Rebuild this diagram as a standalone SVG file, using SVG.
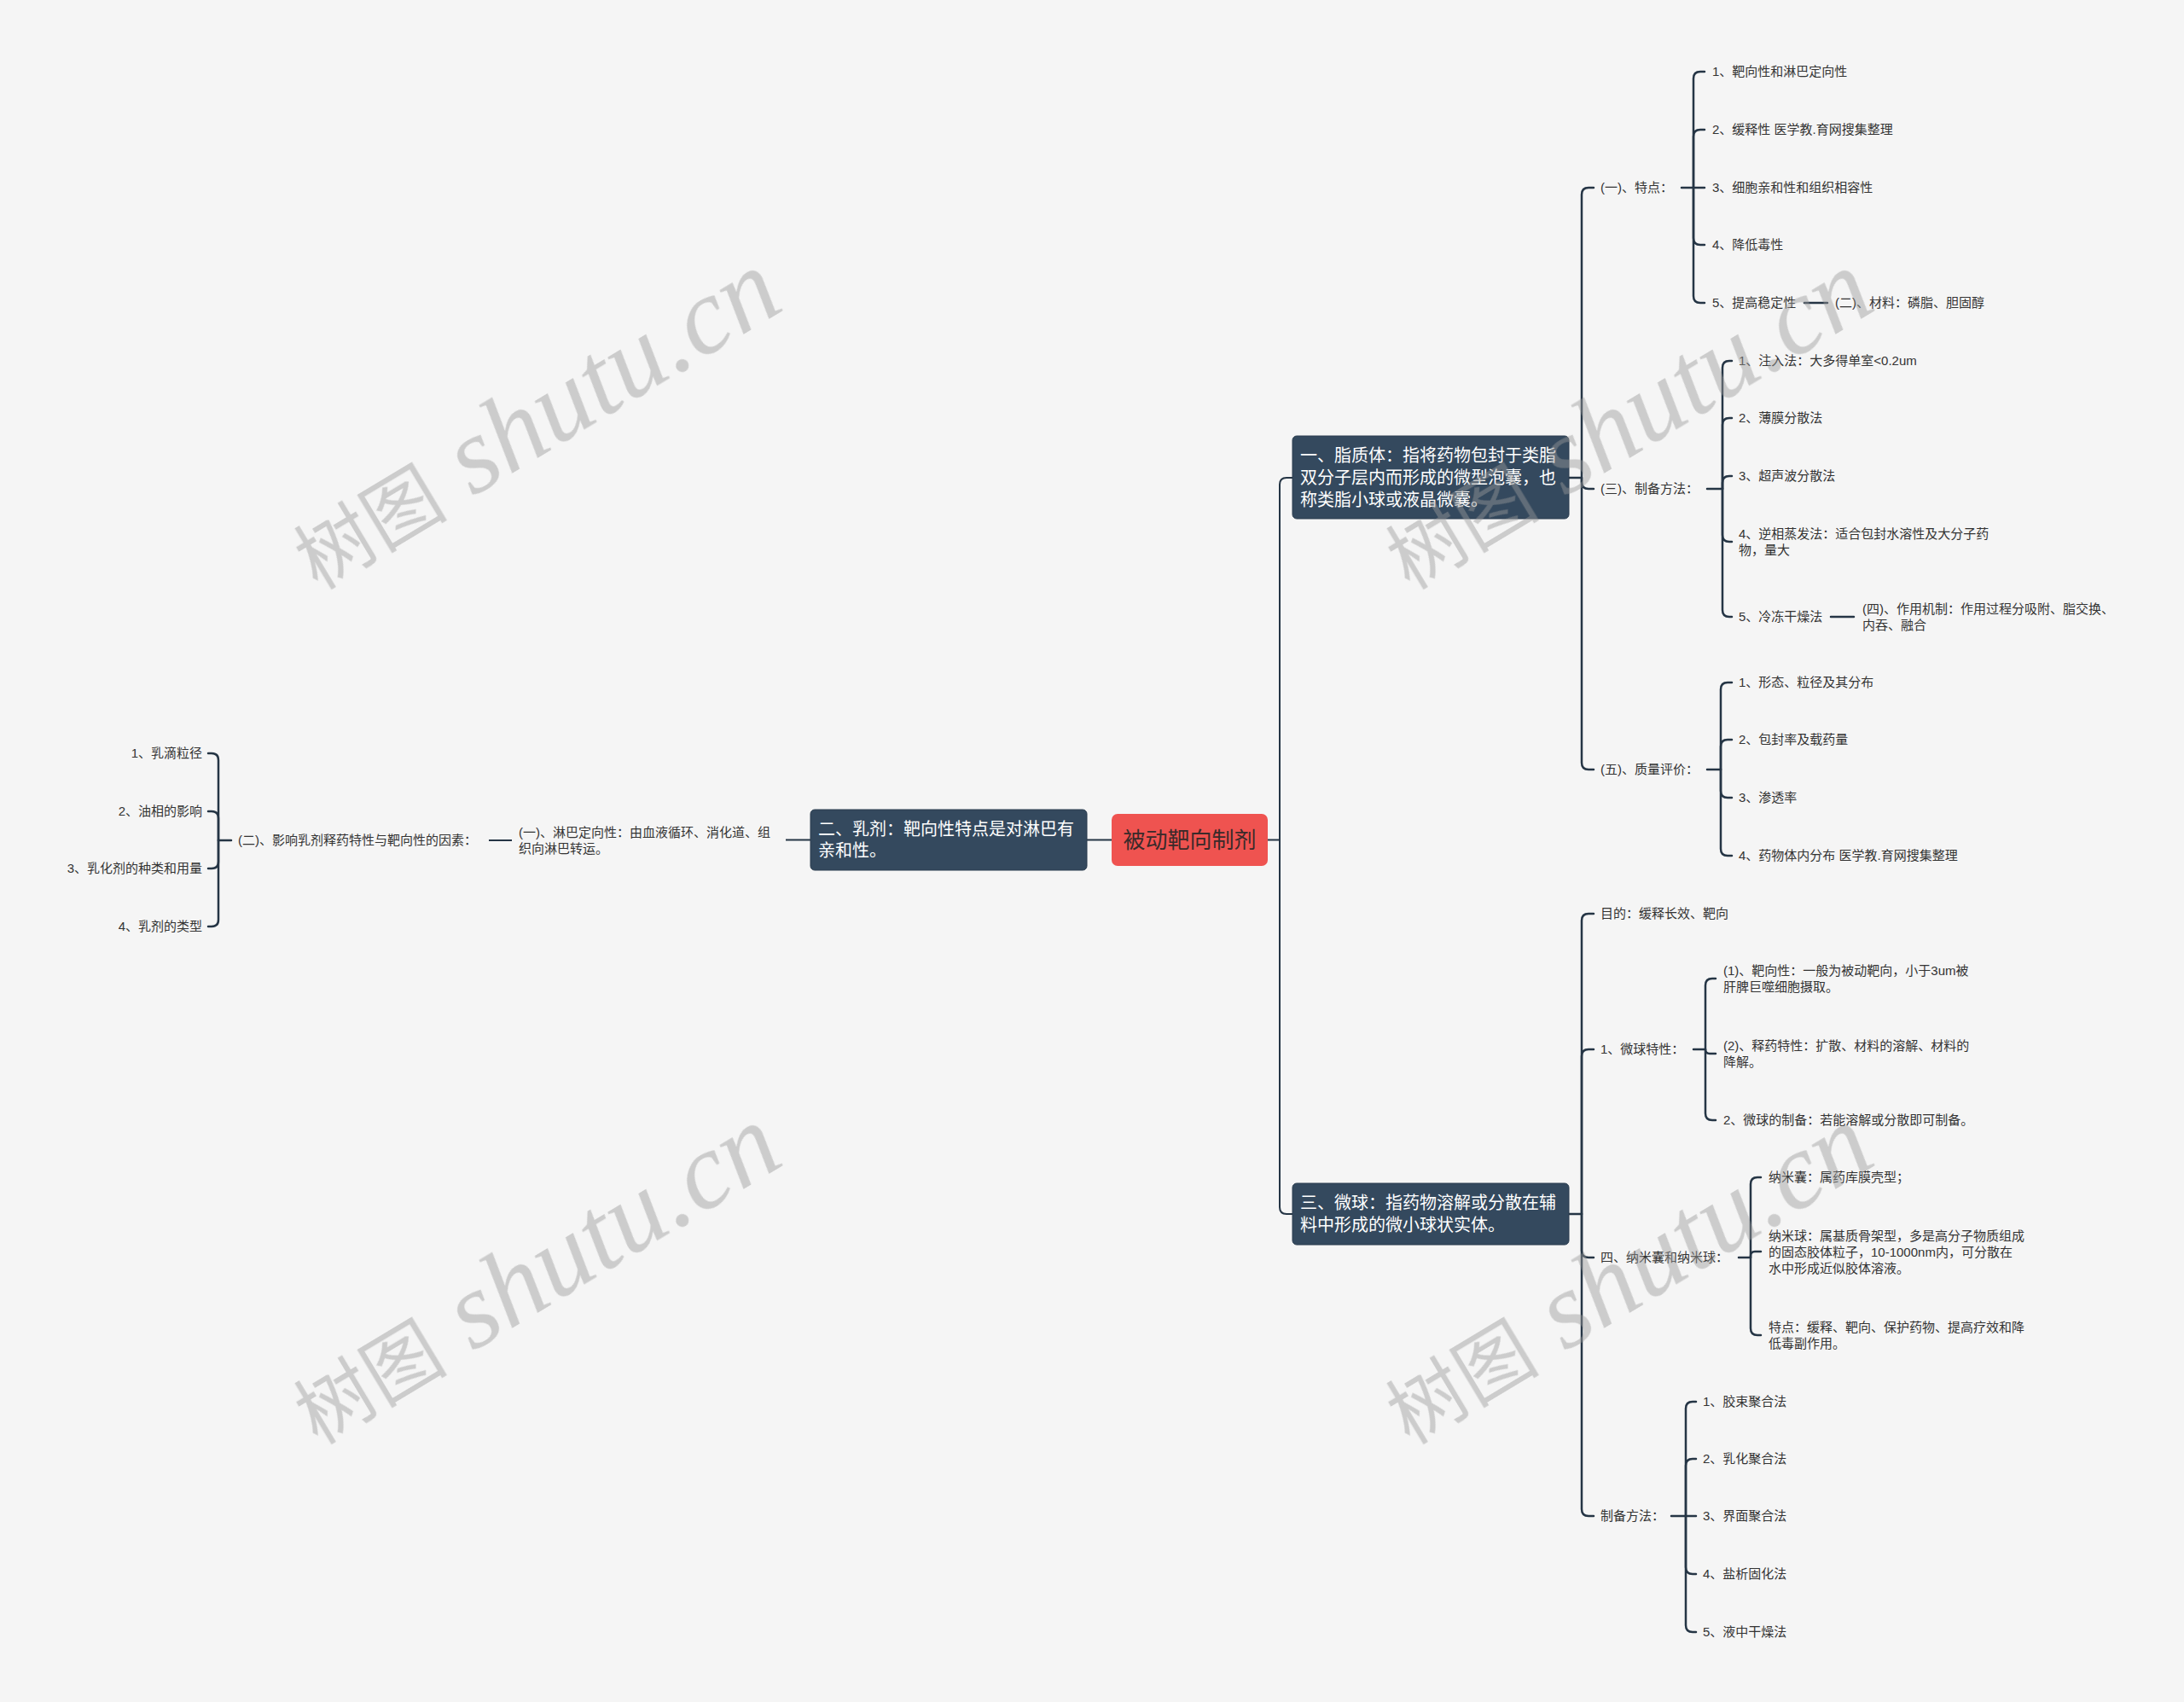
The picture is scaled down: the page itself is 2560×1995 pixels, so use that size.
<svg xmlns="http://www.w3.org/2000/svg" width="2560" height="1995" viewBox="0 0 2560 1995">
<style>
.bg{fill:#f5f5f5}
.t{font-family:"Liberation Sans","Noto Sans CJK SC",sans-serif;font-size:15px;fill:#333333}
.te{text-anchor:end}
.n{font-family:"Liberation Sans","Noto Sans CJK SC",sans-serif;font-size:20px;fill:#ffffff}
.nb{fill:#34495e;stroke:#2b3d4f;stroke-width:1}
.rb{fill:#ef5350}
.rt{font-family:"Liberation Sans","Noto Sans CJK SC",sans-serif;font-size:26px;fill:#3a2a2a;text-anchor:middle}
.c{fill:none;stroke:#253545;stroke-width:2.5;stroke-linecap:round;stroke-linejoin:round}
.m{fill:none;stroke:#253545;stroke-width:2}
.wm{fill:#9a9a9a;opacity:0.45}
.wc{font-family:"Noto Sans CJK SC",serif;font-size:90px}
.wl{font-family:"Liberation Serif",serif;font-style:italic;font-size:128px}
</style>
<rect class="bg" x="0" y="0" width="2560" height="1995"/>

<g id="connectors">
<path class="m" d="M1303,984.5 H1274"/>
<path class="m" d="M1486,984.5 H1500 V568 Q1500,560 1508,560 H1515"/>
<path class="m" d="M1500,984.5 V1415 Q1500,1423 1508,1423 H1515"/>
<path class="m" d="M950,984.5 H921"/>
<path class="m" d="M600,985 H573"/>
<path class="c" d="M271,985 H256 V891 Q256,883 248,883 H244"/>
<path class="c" d="M256,985 V959 Q256,951 248,951 H244"/>
<path class="c" d="M256,985 V1010 Q256,1018 248,1018 H244"/>
<path class="c" d="M256,985 V1078 Q256,1086 248,1086 H244"/>

<path class="c" d="M1839,560 H1854 V228 Q1854,220 1862,220 H1868"/>
<path class="c" d="M1854,560 V565 Q1854,573 1862,573 H1868"/>
<path class="c" d="M1854,560 V894 Q1854,902 1862,902 H1868"/>

<path class="c" d="M1971,220 H1985 V92 Q1985,84 1993,84 H1998"/>
<path class="c" d="M1985,220 V160 Q1985,152 1993,152 H1998"/>
<path class="c" d="M1985,220 H1998"/>
<path class="c" d="M1985,220 V279 Q1985,287 1993,287 H1998"/>
<path class="c" d="M1985,220 V347 Q1985,355 1993,355 H1998"/>
<path class="c" d="M2115,355 H2142"/>

<path class="c" d="M2001,573 H2019 V431 Q2019,423 2027,423 H2030"/>
<path class="c" d="M2019,573 V498 Q2019,490 2027,490 H2030"/>
<path class="c" d="M2019,573 V566 Q2019,558 2027,558 H2030"/>
<path class="c" d="M2019,573 V627 Q2019,635 2027,635 H2030"/>
<path class="c" d="M2019,573 V715 Q2019,723 2027,723 H2030"/>
<path class="c" d="M2146,723 H2173"/>

<path class="c" d="M2001,902 H2017 V808 Q2017,800 2025,800 H2030"/>
<path class="c" d="M2017,902 V875 Q2017,867 2025,867 H2030"/>
<path class="c" d="M2017,902 V927 Q2017,935 2025,935 H2030"/>
<path class="c" d="M2017,902 V995 Q2017,1003 2025,1003 H2030"/>

<path class="c" d="M1839,1423 H1854 V1079 Q1854,1071 1862,1071 H1868"/>
<path class="c" d="M1854,1423 V1238 Q1854,1230 1862,1230 H1868"/>
<path class="c" d="M1854,1423 V1466 Q1854,1474 1862,1474 H1868"/>
<path class="c" d="M1854,1423 V1769 Q1854,1777 1862,1777 H1868"/>

<path class="c" d="M1985,1230 H1999 V1155 Q1999,1147 2007,1147 H2011"/>
<path class="c" d="M1999,1230 V1230 Q1999,1235 2004,1235 H2011"/>
<path class="c" d="M1999,1230 V1305 Q1999,1313 2007,1313 H2011"/>

<path class="c" d="M2038,1474 H2052 V1388 Q2052,1380 2060,1380 H2064"/>
<path class="c" d="M2052,1474 V1472 Q2052,1467 2057,1467 H2064"/>
<path class="c" d="M2052,1474 V1557 Q2052,1565 2060,1565 H2064"/>

<path class="c" d="M1959,1777 H1976 V1651 Q1976,1643 1984,1643 H1988"/>
<path class="c" d="M1976,1777 V1718 Q1976,1710 1984,1710 H1988"/>
<path class="c" d="M1976,1777 H1988"/>
<path class="c" d="M1976,1777 V1837 Q1976,1845 1984,1845 H1988"/>
<path class="c" d="M1976,1777 V1905 Q1976,1913 1984,1913 H1988"/>
</g>

<g id="root">
<rect class="rb" x="1303" y="954" width="183" height="61" rx="7"/>
<text class="rt" x="1394.5" y="994">被动靶向制剂</text>
</g>

<g id="n-liposome">
<rect class="nb" x="1515" y="511" width="324" height="97" rx="5"/>
<text class="n" x="1524" y="541">一、脂质体：指将药物包封于类脂</text>
<text class="n" x="1524" y="567">双分子层内而形成的微型泡囊，也</text>
<text class="n" x="1524" y="593">称类脂小球或液晶微囊。</text>
</g>

<g id="n-emulsion">
<rect class="nb" x="950" y="949" width="324" height="71" rx="5"/>
<text class="n" x="959" y="979">二、乳剂：靶向性特点是对淋巴有</text>
<text class="n" x="959" y="1004">亲和性。</text>
</g>

<g id="n-microsphere">
<rect class="nb" x="1515" y="1387" width="324" height="72" rx="5"/>
<text class="n" x="1524" y="1417">三、微球：指药物溶解或分散在辅</text>
<text class="n" x="1524" y="1443">料中形成的微小球状实体。</text>
</g>

<g id="left-nodes">
<g id="l-lymph"><text class="t" x="608" y="980.5">(一)、淋巴定向性：由血液循环、消化道、组</text><text class="t" x="608" y="999.5">织向淋巴转运。</text></g>
<g id="l-factors"><text class="t" x="279" y="990">(二)、影响乳剂释药特性与靶向性的因素：</text></g>
<g id="l-f1"><text class="t te" x="237" y="888">1、乳滴粒径</text></g>
<g id="l-f2"><text class="t te" x="237" y="956">2、油相的影响</text></g>
<g id="l-f3"><text class="t te" x="237" y="1023">3、乳化剂的种类和用量</text></g>
<g id="l-f4"><text class="t te" x="237" y="1091">4、乳剂的类型</text></g>
</g>

<g id="lipo-nodes">
<g id="p-feat"><text class="t" x="1876" y="225">(一)、特点：</text></g>
<g id="p-f1"><text class="t" x="2007" y="89">1、靶向性和淋巴定向性</text></g>
<g id="p-f2"><text class="t" x="2007" y="157">2、缓释性 医学教.育网搜集整理</text></g>
<g id="p-f3"><text class="t" x="2007" y="225">3、细胞亲和性和组织相容性</text></g>
<g id="p-f4"><text class="t" x="2007" y="292">4、降低毒性</text></g>
<g id="p-f5"><text class="t" x="2007" y="360">5、提高稳定性</text></g>
<g id="p-mat"><text class="t" x="2151" y="360">(二)、材料：磷脂、胆固醇</text></g>
<g id="p-prep"><text class="t" x="1876" y="578">(三)、制备方法：</text></g>
<g id="p-p1"><text class="t" x="2038" y="428">1、注入法：大多得单室&lt;0.2um</text></g>
<g id="p-p2"><text class="t" x="2038" y="495">2、薄膜分散法</text></g>
<g id="p-p3"><text class="t" x="2038" y="563">3、超声波分散法</text></g>
<g id="p-p4"><text class="t" x="2038" y="631">4、逆相蒸发法：适合包封水溶性及大分子药</text><text class="t" x="2038" y="650">物，量大</text></g>
<g id="p-p5"><text class="t" x="2038" y="728">5、冷冻干燥法</text></g>
<g id="p-mech"><text class="t" x="2183" y="718.5">(四)、作用机制：作用过程分吸附、脂交换、</text><text class="t" x="2183" y="737.5">内吞、融合</text></g>
<g id="p-qual"><text class="t" x="1876" y="907">(五)、质量评价：</text></g>
<g id="p-q1"><text class="t" x="2038" y="805">1、形态、粒径及其分布</text></g>
<g id="p-q2"><text class="t" x="2038" y="872">2、包封率及载药量</text></g>
<g id="p-q3"><text class="t" x="2038" y="940">3、渗透率</text></g>
<g id="p-q4"><text class="t" x="2038" y="1008">4、药物体内分布 医学教.育网搜集整理</text></g>
</g>

<g id="micro-nodes">
<g id="m-aim"><text class="t" x="1876" y="1076">目的：缓释长效、靶向</text></g>
<g id="m-char"><text class="t" x="1876" y="1235">1、微球特性：</text></g>
<g id="m-c1"><text class="t" x="2020" y="1142.5">(1)、靶向性：一般为被动靶向，小于3um被</text><text class="t" x="2020" y="1161.5">肝脾巨噬细胞摄取。</text></g>
<g id="m-c2"><text class="t" x="2020" y="1230.5">(2)、释药特性：扩散、材料的溶解、材料的</text><text class="t" x="2020" y="1249.5">降解。</text></g>
<g id="m-c3"><text class="t" x="2020" y="1318">2、微球的制备：若能溶解或分散即可制备。</text></g>
<g id="m-nano"><text class="t" x="1876" y="1479">四、纳米囊和纳米球：</text></g>
<g id="m-n1"><text class="t" x="2073" y="1385">纳米囊：属药库膜壳型；</text></g>
<g id="m-n2"><text class="t" x="2073" y="1454">纳米球：属基质骨架型，多是高分子物质组成</text><text class="t" x="2073" y="1473">的固态胶体粒子，10-1000nm内，可分散在</text><text class="t" x="2073" y="1492">水中形成近似胶体溶液。</text></g>
<g id="m-n3"><text class="t" x="2073" y="1560.5">特点：缓释、靶向、保护药物、提高疗效和降</text><text class="t" x="2073" y="1579.5">低毒副作用。</text></g>
<g id="m-prep"><text class="t" x="1876" y="1782">制备方法：</text></g>
<g id="m-p1"><text class="t" x="1996" y="1648">1、胶束聚合法</text></g>
<g id="m-p2"><text class="t" x="1996" y="1715">2、乳化聚合法</text></g>
<g id="m-p3"><text class="t" x="1996" y="1782">3、界面聚合法</text></g>
<g id="m-p4"><text class="t" x="1996" y="1850">4、盐析固化法</text></g>
<g id="m-p5"><text class="t" x="1996" y="1918">5、液中干燥法</text></g>
</g>

<g id="watermark" class="wm">
<text transform="translate(372,692) rotate(-31)"><tspan class="wc">树图</tspan><tspan class="wl"> shutu.cn</tspan></text>
<text transform="translate(1652,692) rotate(-31)"><tspan class="wc">树图</tspan><tspan class="wl"> shutu.cn</tspan></text>
<text transform="translate(372,1694) rotate(-31)"><tspan class="wc">树图</tspan><tspan class="wl"> shutu.cn</tspan></text>
<text transform="translate(1652,1694) rotate(-31)"><tspan class="wc">树图</tspan><tspan class="wl"> shutu.cn</tspan></text>
</g>
</svg>
